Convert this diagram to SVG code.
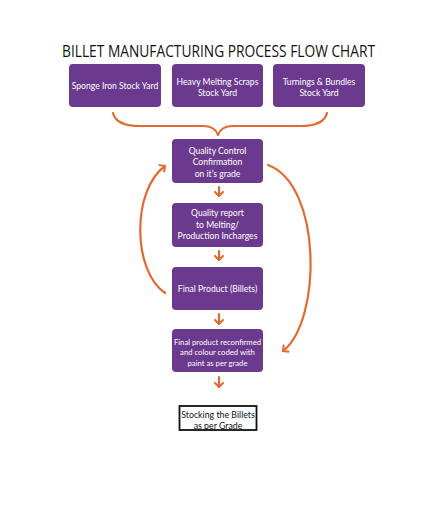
<svg xmlns="http://www.w3.org/2000/svg" width="440" height="507" viewBox="0 0 440 507">
<style>
.box{fill:#6B3A8E;}
.t{font-family:Lato,"Open Sans",sans-serif;font-size:8.6px;fill:#ffffff;text-anchor:middle;}
.s{font-size:7.7px;}
.title{font-family:"Open Sans",Lato,sans-serif;font-size:15.5px;fill:#111111;text-anchor:middle;}
.c{fill:none;stroke:#E06A32;stroke-width:2.2;stroke-linecap:round;stroke-linejoin:round;}
.stk{fill:#ffffff;stroke:#111111;stroke-width:1.8;}
.st{font-family:Lato,"Liberation Sans",sans-serif;font-size:8.8px;fill:#111111;text-anchor:middle;}
</style>
<defs>
<marker id="ah" markerWidth="10" markerHeight="10" refX="5" refY="5" orient="auto" markerUnits="userSpaceOnUse" viewBox="0 0 10 10">
<path d="M1,1 L5,5 L1,9" fill="none" stroke="#E06A32" stroke-width="2" stroke-linecap="round" stroke-linejoin="round"/>
</marker>
</defs>
<rect width="440" height="507" fill="#ffffff"/>
<text class="title" x="218.5" y="57" textLength="313" lengthAdjust="spacingAndGlyphs">BILLET MANUFACTURING PROCESS FLOW CHART</text>
<g id="connectors">
<path class="c" d="M113,113 Q116,126 140,126 L203,126 Q215,126 218,135 Q221,126 233,126 L300,126 Q324,126 327,113"/>
<path class="c" d="M219,187 L219,196" marker-end="url(#ah)"/>
<path class="c" d="M219,251 L219,260" marker-end="url(#ah)"/>
<path class="c" d="M219,314 L219,324" marker-end="url(#ah)"/>
<path class="c" d="M219,377 L219,387" marker-end="url(#ah)"/>
<path class="c" d="M165,293 C132,270 132,190 165,166" marker-end="url(#ah)"/>
<path class="c" d="M268,165 C322,185 322,320 283,351" marker-end="url(#ah)"/>
</g>
<g id="n1">
<rect class="box" x="69" y="64" width="92" height="43" rx="4"/>
<text class="t" x="115" y="89">Sponge Iron Stock Yard</text>
</g>
<g id="n2">
<rect class="box" x="172" y="64" width="91" height="43" rx="4"/>
<text class="t" x="217.5" y="84.5">Heavy Melting Scraps</text>
<text class="t" x="217.5" y="95.5">Stock Yard</text>
</g>
<g id="n3">
<rect class="box" x="273" y="64" width="92" height="43" rx="4"/>
<text class="t" x="319" y="84.5">Turnings &amp; Bundles</text>
<text class="t" x="319" y="95.5">Stock Yard</text>
</g>
<g id="n4">
<rect class="box" x="172" y="139" width="91" height="44" rx="4"/>
<text class="t" x="217.5" y="153.5">Quality Control</text>
<text class="t" x="217.5" y="165">Confirmation</text>
<text class="t" x="217.5" y="176.5">on it’s grade</text>
</g>
<g id="n5">
<rect class="box" x="172" y="203" width="91" height="44" rx="4"/>
<text class="t" x="217.5" y="216">Quality report</text>
<text class="t" x="217.5" y="227.5">to Melting/</text>
<text class="t" x="217.5" y="239">Production Incharges</text>
</g>
<g id="n6">
<rect class="box" x="172" y="267" width="91" height="43" rx="4"/>
<text class="t" x="217.5" y="291.5">Final Product (Billets)</text>
</g>
<g id="n7">
<rect class="box" x="172" y="329" width="91" height="43" rx="4"/>
<text class="t s" x="217.5" y="344.5">Final product reconfirmed</text>
<text class="t s" x="217.5" y="355">and colour coded with</text>
<text class="t s" x="217.5" y="365.5">paint as per grade</text>
</g>
<g id="n8">
<rect class="stk" x="179.5" y="406" width="77" height="24"/>
<text class="st" x="218" y="417.5">Stocking the Billets</text>
<text class="st" x="218" y="428.5">as per Grade</text>
</g>
</svg>
